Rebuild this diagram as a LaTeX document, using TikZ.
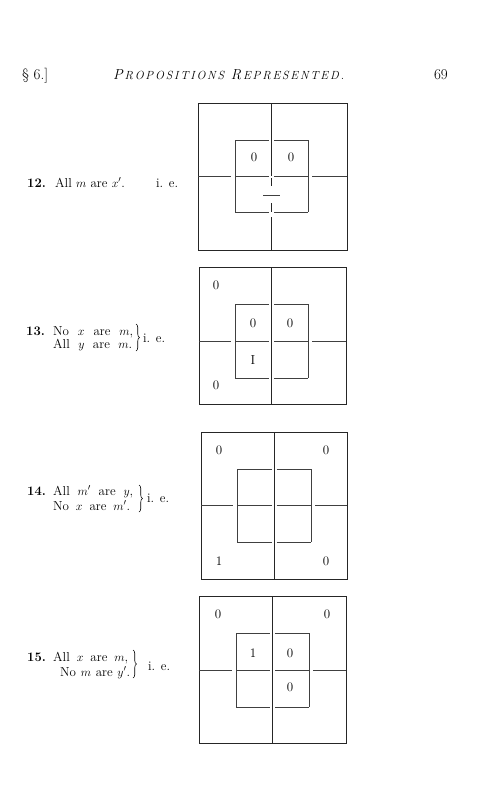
\documentclass[tikz,border=0pt]{standalone}
\usepackage{fontspec}
\usetikzlibrary{decorations.pathreplacing}
\newcommand{\cbox}[8]{%
  \pgfmathsetmacro\cx{(#5+#6)/2}%
  \pgfmathsetmacro\cy{(#7+#8)/2}%
  \draw[outerline] (#1,#3) rectangle (#2,#4);
  \draw[outerline] (\cx,#3) -- (\cx,\cy);
  \draw[innerline] (#1,\cy) -- (#5-4,\cy);
  \draw[innerline] (#6+4,\cy) -- (#2,\cy);
  \draw[innerline] (#5,#7) -- (#5,#8);
  \draw[innerline] (#6,#7) -- (#6,#8);
  \draw[innerline] (#5,#7) -- (\cx-2.5,#7);
  \draw[innerline] (\cx+2.5,#7) -- (#6,#7);
  \draw[innerline] (#5,#8) -- (\cx-2.5,#8);
  \draw[innerline] (\cx+2.5,#8) -- (#6,#8);
  \draw[innerline] (#5,\cy) -- (\cx-2.5,\cy);
  \draw[innerline] (\cx+2.5,\cy) -- (#6,\cy);
}
\newcommand{\wl}[2]{\makebox[#1pt][s]{#2}}
\newlength{\lsp}
\def\spacedtext#1{\spacedi#1\relax}
\def\spacedi#1{\ifx#1\relax\else#1\hspace{\lsp}\expandafter\spacedi\fi}
\begin{document}
\begin{tikzpicture}[x=1pt,y=-1pt,
  outerline/.style={line width=0.9pt,draw=black!85},
  innerline/.style={line width=0.65pt,draw=black!75},
  lbl/.style={anchor=base west,inner sep=0pt,text height=9pt,text depth=2.5pt,font=\fontsize{13}{14}\selectfont\addfontfeatures{LetterSpace=3}},
  num/.style={inner sep=0pt,font=\fontsize{13}{14}\selectfont},
  hdr/.style={anchor=base west,inner sep=0pt,font=\fontsize{15}{16}\selectfont},
  brc/.style={decorate,decoration={brace,amplitude=3.5pt},line width=0.6pt}]
\useasboundingbox (0,0) rectangle (490,800);
% header
\node[hdr] (sec) at (22,79) {§ 6.]};
\node[anchor=base west,inner sep=0pt,font=\itshape] (title) at (113,79)
  {\setlength{\lsp}{1.8pt}{\fontsize{14.5}{15}\selectfont P}\hspace{\lsp}{\fontsize{11.8}{12}\selectfont\spacedtext{ROPOSITIONS}}\hspace{5pt}{\fontsize{14.5}{15}\selectfont R}\hspace{\lsp}{\fontsize{11.8}{12}\selectfont\spacedtext{EPRESENTED.}}};
\node[hdr,anchor=base east] (page) at (448,79) {69};

% diagram 12
\cbox{198}{347}{103}{250}{235}{308}{140}{212}
\draw[outerline] (\cx,\cy+2) -- (\cx,186);
\draw[innerline] (\cx-8.5,195) -- (\cx+8.5,195);
\draw[outerline] (\cx,203) -- (\cx,212);
\draw[outerline] (\cx,217) -- (\cx,250);
\node[num] (a1) at (254,157) {0};
\node[num] (a2) at (291,157) {0};
\node[lbl] (t12n) at (27,187) {\textbf{12.}};
\node[lbl] (t12) at (55,187) {All $m$ are $x'$.};
\node[lbl] (t12ie) at (156,187) {i. e.};

% diagram 13
\cbox{199}{346}{267}{404}{235}{308}{304}{378}
\draw[outerline] (\cx,\cy) -- (\cx,404);
\node[num] (b1) at (216,285) {0};
\node[num] (b2) at (253,323) {0};
\node[num] (b3) at (290,323) {0};
\node[num] (b4) at (253,360) {I};
\node[num] (b5) at (216,385) {0};
\node[lbl] (t13n) at (26,335) {\textbf{13.}};
\node[lbl] (t13a) at (53,335) {\wl{80}{No $x$ are $m$,}};
\node[lbl] (t13b) at (53,348) {\wl{79}{All $y$ are $m$.}};
\coordinate (br13a) at (136,324);
\coordinate (br13b) at (136,351);
\draw[brc] (br13a) -- (br13b);
\node[lbl] (t13ie) at (143,342) {i. e.};

% diagram 14
\cbox{201}{347}{432}{579}{237}{311}{469}{542}
\draw[outerline] (\cx,\cy) -- (\cx,579);
\node[num] (c1) at (219,450) {0};
\node[num] (c2) at (326,450) {0};
\node[num] (c3) at (219,561) {1};
\node[num] (c4) at (326,561) {0};
\node[lbl] (t14n) at (27,495) {\textbf{14.}};
\node[lbl] (t14a) at (53,495) {\wl{80}{All $m'$ are $y$,}};
\node[lbl] (t14b) at (53,510) {\wl{77}{No $x$ are $m'$.}};
\coordinate (br14a) at (139,485);
\coordinate (br14b) at (139,512);
\draw[brc] (br14a) -- (br14b);
\node[lbl] (t14ie) at (147,502) {i. e.};

% diagram 15
\cbox{199}{346}{596}{743}{236}{309}{633}{707}
\draw[outerline] (\cx,\cy) -- (\cx,743);
\node[num] (d1) at (218,614) {0};
\node[num] (d2) at (327,614) {0};
\node[num] (d3) at (253,653) {1};
\node[num] (d4) at (290,653) {0};
\node[num] (d5) at (290,687) {0};
\node[lbl] (t15n) at (27,661) {\textbf{15.}};
\node[lbl] (t15a) at (53,661) {\wl{75}{All $x$ are $m$,}};
\node[lbl] (t15b) at (60,676) {\wl{70}{No $m$ are $y'$.}};
\coordinate (br15a) at (133,650);
\coordinate (br15b) at (133,678);
\draw[brc] (br15a) -- (br15b);
\node[lbl] (t15ie) at (148,670) {i. e.};
\end{tikzpicture}
\end{document}
